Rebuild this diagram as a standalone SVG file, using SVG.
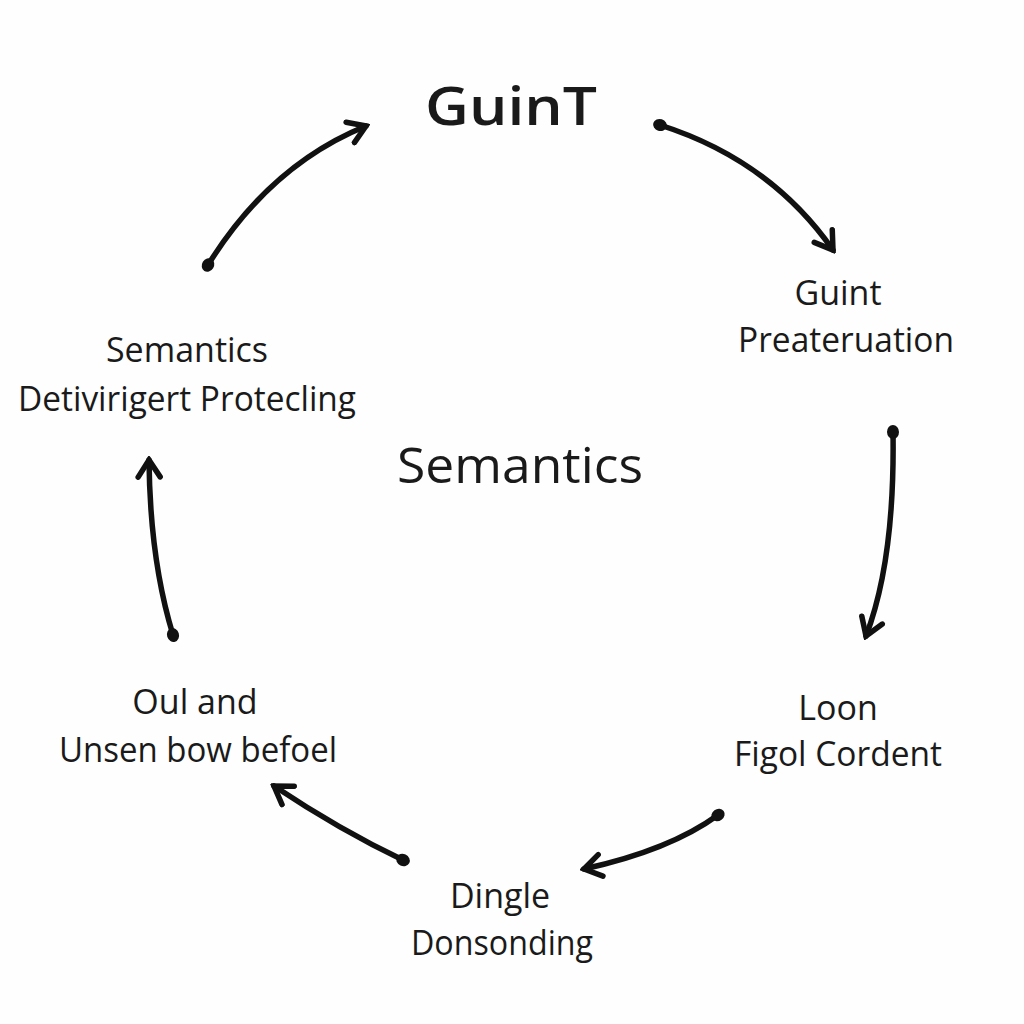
<svg xmlns="http://www.w3.org/2000/svg" width="1024" height="1024" viewBox="0 0 1024 1024">
<style>
.t{font-family:"Open Sans","DejaVu Sans",sans-serif;fill:#1a1a1a;text-anchor:middle}
.lbl{font-size:34px}
.c{fill:none;stroke:#111;stroke-width:5.5;stroke-linecap:round;marker-start:url(#dot);marker-end:url(#arr)}
</style>
<defs>
<marker id="arr" markerUnits="userSpaceOnUse" viewBox="-20 -14 24 28" markerWidth="24" markerHeight="28" refX="0" refY="0" orient="auto">
<path d="M-17,-11 L0,0 L-17,11" fill="none" stroke="#111" stroke-width="5.5" stroke-linejoin="miter" stroke-linecap="round"/>
</marker>
<marker id="dot" markerUnits="userSpaceOnUse" viewBox="-8 -8 16 16" markerWidth="16" markerHeight="16" refX="0" refY="0" orient="auto">
<ellipse cx="0" cy="0" rx="7" ry="6" fill="#111"/>
</marker>
</defs>
<rect width="1024" height="1024" fill="#fefefe"/>
<g id="connectors">
<path class="c" d="M208,265 Q270,165 366,126"/>
<path class="c" d="M660,125 Q770,160 833,250"/>
<path class="c" d="M893,432 Q895,560 866,636"/>
<path class="c" d="M718,815 Q670,850 584,869"/>
<path class="c" d="M403,860 Q340,830 274,786"/>
<path class="c" d="M173,635 Q150,560 149,460"/>
</g>
<g id="n-top"><text class="t" x="511" y="125" font-size="52" font-weight="600" textLength="172" lengthAdjust="spacingAndGlyphs">GuinT</text></g>
<g id="n-center"><text class="t" x="520" y="483" font-size="50" textLength="246" lengthAdjust="spacingAndGlyphs">Semantics</text></g>
<g id="n-right"><text class="t lbl" x="838" y="305">Guint</text><text class="t lbl" x="846" y="352" textLength="216" lengthAdjust="spacingAndGlyphs">Preateruation</text></g>
<g id="n-lowright"><text class="t lbl" x="838" y="720">Loon</text><text class="t lbl" x="838" y="766" textLength="208" lengthAdjust="spacingAndGlyphs">Figol Cordent</text></g>
<g id="n-bottom"><text class="t lbl" x="500" y="908">Dingle</text><text class="t lbl" x="502" y="955" textLength="182" lengthAdjust="spacingAndGlyphs">Donsonding</text></g>
<g id="n-lowleft"><text class="t lbl" x="195" y="714">Oul and</text><text class="t lbl" x="198" y="762" textLength="278" lengthAdjust="spacingAndGlyphs">Unsen bow befoel</text></g>
<g id="n-left"><text class="t lbl" x="187" y="362">Semantics</text><text class="t lbl" x="187" y="411" textLength="338" lengthAdjust="spacingAndGlyphs">Detivirigert Protecling</text></g>
</svg>
